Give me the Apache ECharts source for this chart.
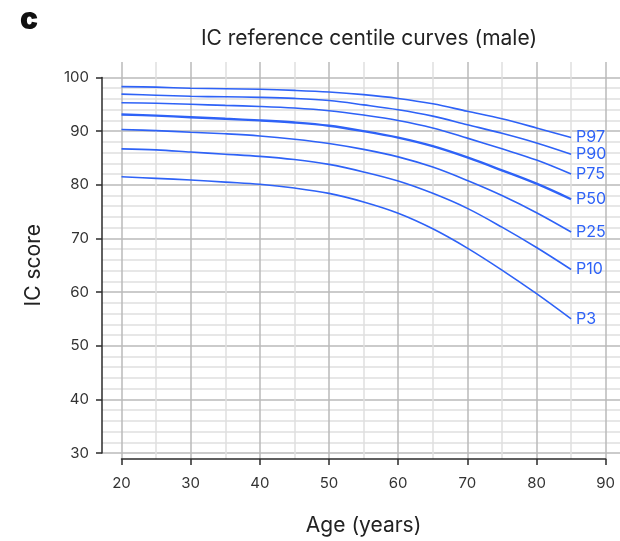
<!DOCTYPE html>
<html>
<head>
<meta charset="utf-8">
<script src="https://cdn.jsdelivr.net/npm/echarts@6/dist/echarts.min.js"></script>
<style>
  html, body { margin: 0; padding: 0; background: #fff; }
  #chart { width: 620px; height: 541px; }
</style>
</head>
<body>
<div id="chart"></div>
<script>
// Ages at which each centile curve is given
const ages = [20, 25, 30, 35, 40, 45, 50, 55, 60, 65, 70, 75, 80, 85];

// IC score by centile
const p97 = [98.3, 98.2, 98.0, 97.9, 97.8, 97.6, 97.3, 96.8, 96.1, 95.1, 93.7, 92.3, 90.6, 88.8];
const p90 = [96.9, 96.7, 96.5, 96.4, 96.3, 96.1, 95.7, 94.9, 94.0, 92.8, 91.2, 89.6, 87.8, 85.7];
const p75 = [95.3, 95.2, 95.0, 94.8, 94.6, 94.3, 93.8, 93.0, 92.0, 90.6, 88.7, 86.7, 84.6, 82.0];
const p50 = [93.1, 92.9, 92.6, 92.3, 92.0, 91.6, 91.0, 90.0, 88.8, 87.2, 85.1, 82.7, 80.2, 77.3];
const p25 = [90.3, 90.1, 89.8, 89.5, 89.1, 88.5, 87.7, 86.6, 85.2, 83.3, 80.8, 78.0, 74.8, 71.2];
const p10 = [86.7, 86.5, 86.1, 85.7, 85.3, 84.7, 83.8, 82.4, 80.7, 78.4, 75.6, 72.1, 68.3, 64.2];
const p3  = [81.5, 81.2, 80.9, 80.5, 80.1, 79.4, 78.4, 76.8, 74.7, 71.8, 68.2, 64.1, 59.7, 55.0];

const centileNames = ['P97', 'P90', 'P75', 'P50', 'P25', 'P10', 'P3'];
const centileValues = [p97, p90, p75, p50, p25, p10, p3];

const xTicks = [20, 30, 40, 50, 60, 70, 80, 90];
const yTicks = [30, 40, 50, 60, 70, 80, 90, 100];

const FONT = 'Inter';
const BLUE = '#2e62f7';
const MAJOR = '#bababa';
const MINOR = '#e0e0e0';
const AXIS = '#2b2b2b';

const chart = echarts.init(document.getElementById('chart'), null, { renderer: 'canvas' });

const series = centileNames.map((name, i) => ({
  name: name,
  type: 'line',
  xAxisIndex: 0,
  yAxisIndex: 0,
  smooth: 0.35,
  showSymbol: false,
  symbol: 'none',
  silent: true,
  data: ages.map((a, j) => [a, centileValues[i][j]]),
  lineStyle: { color: BLUE, width: name === 'P50' ? 2.4 : 1.6 },
  endLabel: {
    show: true,
    formatter: '{a}',
    color: BLUE,
    fontFamily: FONT,
    fontSize: 16,
    distance: 5
  },
  z: 5
}));

const option = {
  animation: false,
  backgroundColor: '#fff',
  title: [
    {
      text: 'c',
      left: 15, top: 0,
      textStyle: { fontFamily: FONT, fontWeight: 900, fontSize: 30, color: '#111' }
    },
    {
      text: 'IC reference centile curves (male)',
      left: 364, top: 23, textAlign: 'center',
      textStyle: { fontFamily: FONT, fontWeight: 'normal', fontSize: 21, color: '#222' }
    }
  ],
  grid: [
    // plotting area for the curves
    { left: 121.5, right: 14.3, top: 77.5, bottom: 88 },
    // horizontal guide lines, reaching back to the y axis and out to the edge
    { left: 102, right: 0, top: 77.5, bottom: 88 },
    // vertical guide lines, from above 100 down to the x axis
    { left: 121.5, right: 14.3, top: 62, bottom: 72 }
  ],
  xAxis: [
    { gridIndex: 0, type: 'value', min: 20, max: 90, show: false },
    { gridIndex: 1, type: 'value', min: 0, max: 1, show: false },
    {
      gridIndex: 2, type: 'value', min: xTicks[0], max: xTicks[xTicks.length - 1], interval: 10,
      name: 'Age (years)', nameLocation: 'middle', nameGap: 56,
      nameTextStyle: { fontFamily: FONT, fontSize: 21, color: '#222' },
      axisLine: { show: true, lineStyle: { color: AXIS, width: 1.5 } },
      axisTick: { show: true, inside: false, length: 6, lineStyle: { color: AXIS, width: 1.5 } },
      axisLabel: { margin: 17, fontFamily: FONT, fontSize: 15, color: '#333' },
      splitLine: { show: true, lineStyle: { color: MAJOR, width: 1.5 } },
      minorTick: { show: false, splitNumber: 2 },
      minorSplitLine: { show: true, lineStyle: { color: MINOR, width: 1.5 } }
    }
  ],
  yAxis: [
    { gridIndex: 0, type: 'value', min: 30, max: 100, show: false },
    {
      gridIndex: 1, type: 'value', min: yTicks[0], max: yTicks[yTicks.length - 1], interval: 10,
      name: 'IC score', nameLocation: 'middle', nameGap: 58,
      nameTextStyle: { fontFamily: FONT, fontSize: 21, color: '#222' },
      axisLine: { show: true, lineStyle: { color: AXIS, width: 1.5 } },
      axisTick: { show: true, inside: false, length: 6, lineStyle: { color: AXIS, width: 1.5 } },
      axisLabel: { margin: 13, fontFamily: FONT, fontSize: 15, color: '#333' },
      splitLine: { show: true, lineStyle: { color: MAJOR, width: 1.5 } },
      minorTick: { show: false, splitNumber: 5 },
      minorSplitLine: { show: true, lineStyle: { color: MINOR, width: 1.5 } }
    },
    { gridIndex: 2, type: 'value', min: 0, max: 1, show: false }
  ],
  series: series
};

chart.setOption(option);
</script>
</body>
</html>
